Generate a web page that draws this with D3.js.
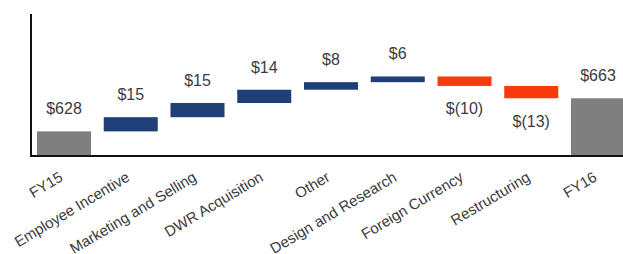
<!DOCTYPE html>
<html><head><meta charset="utf-8">
<script src="https://cdn.jsdelivr.net/npm/d3@7"></script>
<style>body{margin:0;background:#fff;} svg{display:block;}</style>
</head><body>
<script>
const categories = ["FY15","Employee Incentive","Marketing and Selling","DWR Acquisition","Other","Design and Research","Foreign Currency","Restructuring","FY16"];
const values = [628, 15, 15, 14, 8, 6, -10, -13, 663];
const kinds = ["total","inc","inc","inc","inc","inc","dec","dec","total"];
const labels = ["$628","$15","$15","$14","$8","$6","$(10)","$(13)","$663"];
const yDomain = [602, 752];

const W = 623, H = 254;
const svg = d3.select("body").append("svg").attr("width", W).attr("height", H);

// build waterfall rows
let run = 0;
const rows = categories.map((c, i) => {
  let y0, y1;
  if (kinds[i] === "total") { y0 = yDomain[0]; y1 = values[i]; run = values[i]; }
  else { y0 = run; y1 = run + values[i]; run = y1; }
  return {c, kind: kinds[i], lo: Math.min(y0, y1), hi: Math.max(y0, y1), label: labels[i]};
});

const x = d3.scaleBand().domain(categories).range([37, 625]).paddingInner(0.191).paddingOuter(0);
const y = d3.scaleLinear().domain(yDomain).range([156, 14]);
const color = {total: "#7f7f7f", inc: "#1e3f78", dec: "#fa3a0a"};

svg.append("g").selectAll("rect").data(rows).join("rect")
  .attr("x", d => x(d.c)).attr("width", x.bandwidth())
  .attr("y", d => y(d.hi)).attr("height", d => y(d.lo) - y(d.hi))
  .attr("fill", d => color[d.kind]);

svg.append("g").selectAll("text").data(rows).join("text")
  .attr("x", d => x(d.c) + x.bandwidth() / 2)
  .attr("y", d => d.kind === "dec" ? y(d.lo) + 28.5 : y(d.hi) - 17)
  .attr("text-anchor", "middle")
  .attr("font-family", "Liberation Sans, Arial, sans-serif")
  .attr("font-size", 16).attr("fill", "#3c3c3c")
  .text(d => d.label);

// axes
const xAxis = d3.axisBottom(x).tickSize(0).tickPadding(0);
const gx = svg.append("g").attr("transform", `translate(0,${y(yDomain[0])})`).call(xAxis);
gx.select(".domain").remove();
gx.selectAll("text")
  .attr("font-family", "Liberation Sans, Arial, sans-serif")
  .attr("font-size", 15).attr("fill", "#3c3c3c")
  .attr("text-anchor", "end").attr("dy", null).attr("y", null)
  .attr("transform", "translate(0,24) rotate(-31)");

svg.append("line").attr("x1", 31).attr("x2", W).attr("y1", y(yDomain[0])).attr("y2", y(yDomain[0]))
  .attr("stroke", "#111").attr("stroke-width", 2);
svg.append("line").attr("x1", 31).attr("x2", 31).attr("y1", y(yDomain[1])).attr("y2", y(yDomain[0]) + 1)
  .attr("stroke", "#111").attr("stroke-width", 2);
</script>
</body></html>
